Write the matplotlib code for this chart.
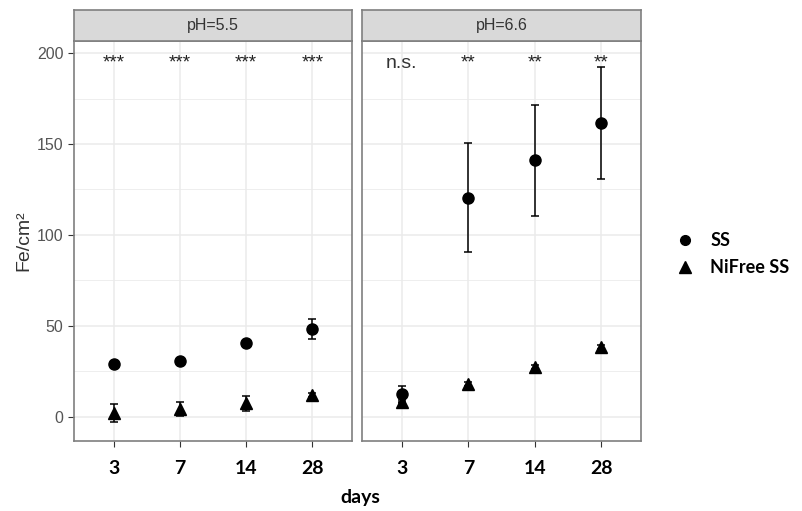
import matplotlib.pyplot as plt
from matplotlib.lines import Line2D

## data
days = ["3", "7", "14", "28"]
panels = ["pH=5.5", "pH=6.6"]
ss_mean = {"pH=5.5": [29, 30.5, 40.5, 48.5], "pH=6.6": [12.5, 120.5, 141, 161.5]}
ss_err = {"pH=5.5": [1.5, 1.5, 2, 5.5], "pH=6.6": [4.5, 30, 30.5, 31]}
nf_mean = {"pH=5.5": [2, 4.5, 7.5, 12], "pH=6.6": [8.5, 18, 27.5, 38.5]}
nf_err = {"pH=5.5": [5, 4, 4, 1], "pH=6.6": [1, 1, 1, 1]}
signif = {"pH=5.5": ["***", "***", "***", "***"], "pH=6.6": ["n.s.", "**", "**", "**"]}

W, H = 803, 511
fig = plt.figure(figsize=(W / 100, H / 100), dpi=100)

def px_axes(x0, y0, x1, y1):
    return fig.add_axes([x0 / W, 1 - y1 / H, (x1 - x0) / W, (y1 - y0) / H])

grid_col = "#EBEBEB"
border = "#7F7F7F"
lefts = [(74, 352), (362, 641)]
xpos = list(range(len(days)))

for i, (name, (x0, x1)) in enumerate(zip(panels, lefts)):
    ax = px_axes(x0, 41, x1, 441)
    ax.set_xlim(-0.6, 3.6)
    ax.set_ylim(-13.2, 206.6)
    for y in [0, 50, 100, 150, 200]:
        ax.axhline(y, color=grid_col, lw=1.1, zorder=0)
    for y in [25, 75, 125, 175]:
        ax.axhline(y, color=grid_col, lw=0.6, zorder=0)
    for x in xpos:
        ax.axvline(x, color=grid_col, lw=1.1, zorder=0)

    ax.errorbar(xpos, ss_mean[name], yerr=ss_err[name], fmt="o", color="black",
                ms=8, capsize=2.6, elinewidth=1.1, capthick=1.1, zorder=3)
    ax.errorbar(xpos, nf_mean[name], yerr=nf_err[name], fmt="^", color="black",
                ms=9, capsize=2.6, elinewidth=1.1, capthick=1.1, zorder=3)

    for x, s in zip(xpos, signif[name]):
        if s == "n.s.":
            ax.text(x, 194, s, ha="center", va="center", fontsize=14,
                    color="#333333", family="Liberation Sans")
        else:
            ax.text(x, 192, s, ha="center", va="baseline", fontsize=13.5,
                    color="#222222", family="Liberation Sans")

    ax.set_xticks(xpos)
    ax.set_xticklabels(days, fontsize=14, fontweight="bold", family="Lato")
    ax.tick_params(axis="x", length=4, color="#333333", pad=10)
    if i == 0:
        ax.set_yticks([0, 50, 100, 150, 200])
        ax.tick_params(axis="y", labelsize=11.5, labelcolor="#555555",
                       length=4, color="#333333")
        for lab in ax.get_yticklabels():
            lab.set_family("Liberation Sans")
    else:
        ax.set_yticks([])
    for sp in ax.spines.values():
        sp.set_color(border)
        sp.set_linewidth(1.2)

    # facet strip
    sax = px_axes(x0, 10, x1, 41)
    sax.set_xticks([])
    sax.set_yticks([])
    sax.set_facecolor("#D9D9D9")
    for sp in sax.spines.values():
        sp.set_color(border)
        sp.set_linewidth(1.2)
    sax.text(0.5, 0.5, name, ha="center", va="center", fontsize=11.5,
             color="#333333", family="Liberation Sans", transform=sax.transAxes)

fig.text(24 / W, 1 - 241 / H, "Fe/cm²", rotation=90, ha="center", va="center",
         fontsize=14, color="#333333", family="Liberation Sans")
fig.text(360 / W, 1 - 497 / H, "days", ha="center", va="center",
         fontsize=14, fontweight="bold", family="Lato")

handles = [Line2D([], [], marker="o", color="black", ls="none", ms=7),
           Line2D([], [], marker="^", color="black", ls="none", ms=8)]
fig.legend(handles, ["SS", "NiFree SS"], loc="center left",
           bbox_to_anchor=(658 / W, 1 - 254 / H), frameon=False,
           prop={"family": "Lato", "weight": "bold", "size": 13},
           handletextpad=0.8, labelspacing=0.55, handlelength=1.2)

plt.savefig("out.png", dpi=100)
